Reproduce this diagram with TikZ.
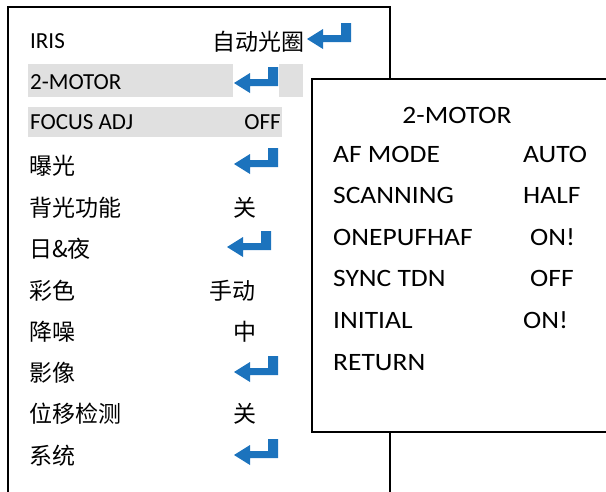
\documentclass[tikz,border=0pt]{standalone}
\usepackage{fontspec}
\setmainfont{Carlito}
\newfontfamily\widefont{Carlito}[FakeStretch=1.1]
\newfontfamily\cjk{Noto Sans CJK SC}
\usepackage{xcolor}
\usetikzlibrary{calc, math}
\definecolor{enterblue}{rgb}{0.11,0.45,0.74}
\definecolor{rowgray}{rgb}{0.88,0.88,0.88}
\tikzset{
  menutext/.style={anchor=base west, inner sep=0pt, font=\fontsize{23}{27}\selectfont},
  cjktext/.style={anchor=base west, inner sep=0pt, font=\fontsize{23}{27}\selectfont\cjk},
  subtext/.style={anchor=base west, inner sep=0pt, font=\fontsize{25}{29}\selectfont\widefont},
  menubox/.style={line width=1.6pt},
}
% enter key glyph, top left corner at (#1,#2)
\newcommand{\enterkey}[2]{%
  \fill[enterblue, shift={(#1,#2)}] (0,16) -- (16,6) -- (16,12) -- (34,12) -- (34,0) -- (44,0) -- (44,19) -- (16,19) -- (16,26) -- cycle;}

\begin{document}
\begin{tikzpicture}[x=1pt, y=-1pt]
  \tikzmath{
    \xmin=8;
    \xmax=390;
    \ymin=7;
    \subxmin=312;
    \subymin=79;
    \subymax=432;
  }
  \clip (0,0) rectangle (606,491);

  % main menu
  \draw[menubox] (\xmin, \ymin) rectangle (\xmax, 540);
  \fill[rowgray] (28,64) rectangle (303,97);
  \fill[rowgray] (28,107) rectangle (282,137);
  \fill[white] (233,64) rectangle (279,97);

  \node[menutext] (iris) at (30,48) {IRIS};
  \node[cjktext] (irisval) at (212,50) {自动光圈};
  \node[menutext] (motor) at (30,89) {2-MOTOR};
  \node[menutext] (focus) at (30,129) {FOCUS ADJ};
  \node[menutext, anchor=base east] (focusval) at (281,129) {OFF};
  \node[cjktext] (expo) at (29,174) {曝光};
  \node[cjktext] (blc) at (29,216) {背光功能};
  \node[cjktext, anchor=base] (blcval) at (245,216) {关};
  \node[cjktext] (daynight) at (29,257) {日\&夜};
  \node[cjktext] (color) at (29,299) {彩色};
  \node[cjktext] (colorval) at (209,299) {手动};
  \node[cjktext] (dnr) at (29,340) {降噪};
  \node[cjktext, anchor=base] (dnrval) at (245,340) {中};
  \node[cjktext] (image) at (29,381) {影像};
  \node[cjktext] (motion) at (29,422) {位移检测};
  \node[cjktext, anchor=base] (motionval) at (245,422) {关};
  \node[cjktext] (system) at (29,464) {系统};

  % enter keys
  \enterkey{307}{23}
  \enterkey{234}{67}
  \enterkey{234}{148}
  \enterkey{227}{231}
  \enterkey{234}{356}
  \enterkey{234}{439}

  % 2-MOTOR sub menu
  \filldraw[menubox, fill=white] (\subxmin, \subymin) rectangle (660, \subymax);
  \node[subtext, anchor=base] (subtitle) at (457,123) {2-MOTOR};
  \node[subtext] (afmode) at (333,162) {AF MODE};
  \node[subtext] (afmodeval) at (523,162) {AUTO};
  \node[subtext] (scan) at (333,203) {SCANNING};
  \node[subtext] (scanval) at (523,203) {HALF};
  \node[subtext] (onepush) at (333,245) {ONEPUFHAF};
  \node[subtext] (onepushval) at (530,245) {ON!};
  \node[subtext] (synctdn) at (333,286) {SYNC TDN};
  \node[subtext] (synctdnval) at (530,286) {OFF};
  \node[subtext] (initial) at (333,328) {INITIAL};
  \node[subtext] (initialval) at (523,328) {ON!};
  \node[subtext] (return) at (333,370) {RETURN};
\end{tikzpicture}
\end{document}
